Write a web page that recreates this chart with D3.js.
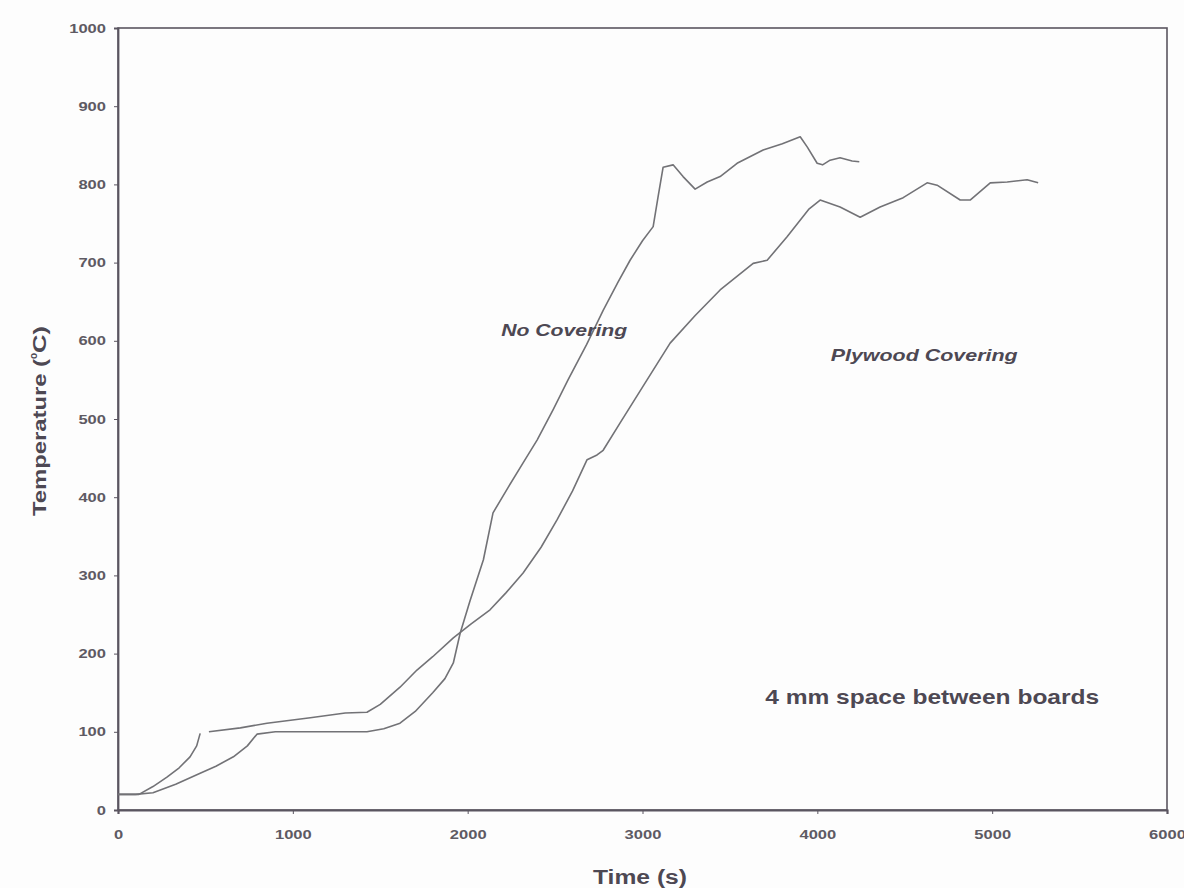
<!DOCTYPE html>
<html>
<head>
<meta charset="utf-8">
<script src="https://cdn.jsdelivr.net/npm/d3@7"></script>
<style>
  html, body { margin: 0; padding: 0; background: #fdfdfd; }
  svg { display: block; }
  text { font-family: "Liberation Sans", Arial, sans-serif; }
</style>
</head>
<body>
<svg id="chart" width="1184" height="888"></svg>
<script>
// Temperature histories (time in s, temperature in °C)
const noCoveringTime = [0, 100, 200, 330, 470, 560, 660, 740, 795, 900, 1000, 1200, 1424, 1520, 1613, 1700, 1800, 1870, 1918, 1957, 2014, 2090, 2145, 2230, 2317, 2397, 2489, 2574, 2680, 2775, 2860, 2929, 3000, 3061, 3089, 3118, 3175, 3232, 3301, 3370, 3444, 3541, 3690, 3800, 3902, 3942, 3999, 4030, 4073, 4130, 4199, 4240];
const noCoveringTemp = [20, 20, 22, 33, 47, 56, 68, 82, 97, 100, 100, 100, 100, 104, 111, 126, 150, 168, 188, 226, 268, 320, 380, 412, 444, 473, 512, 550, 595, 639, 675, 703, 728, 746, 784, 822, 825, 810, 794, 803, 810, 827, 844, 852, 861, 848, 827, 825, 831, 834, 830, 829];

const plywoodTime = [0, 120, 200, 280, 350, 412, 450, 470, 490, 520, 700, 852, 1100, 1300, 1424, 1500, 1613, 1710, 1800, 1918, 2020, 2128, 2220, 2317, 2420, 2511, 2600, 2683, 2740, 2775, 2872, 3026, 3158, 3300, 3444, 3633, 3713, 3827, 3950, 4016, 4130, 4245, 4359, 4491, 4628, 4685, 4817, 4874, 4989, 5086, 5200, 5263];
const plywoodTemp = [20, 20, 30, 42, 54, 68, 82, 98, null, 100, 105, 111, 118, 124, 125, 135, 157, 179, 196, 220, 238, 256, 278, 303, 336, 371, 408, 448, 454, 460, 495, 550, 597, 632, 665, 699, 703, 733, 768, 780, 771, 758, 771, 783, 802, 799, 780, 780, 802, 803, 806, 802];

const xTicks = [0, 1000, 2000, 3000, 4000, 5000, 6000];
const yTicks = [0, 100, 200, 300, 400, 500, 600, 700, 800, 900, 1000];

const seriesNames = ["No Covering", "Plywood Covering"];
const noteText = "4 mm space between boards";

// Text placement (data coordinates) and rendered widths
const seriesLabelLayout = [
  { t: 2552, T: 606, width: 126, size: 16.5 },
  { t: 4611, T: 574, width: 187, size: 16.5 }
];

const svg = d3.select("#chart");
const margin = { left: 118, right: 17, top: 28, bottom: 78 };
const W = 1184, H = 888;

const x = d3.scaleLinear().domain([0, 6000]).range([margin.left, W - margin.right]);
const y = d3.scaleLinear().domain([0, 1000]).range([H - margin.bottom, margin.top]);

const axisColor = "#5a5560";
const textColor = "#4d4853";
const tickColor = "#5e5a63";
const lineColor = "#727276";

// Plot frame
svg.append("rect")
  .attr("x", x(0)).attr("y", y(1000))
  .attr("width", x(6000) - x(0)).attr("height", y(0) - y(1000))
  .attr("fill", "none").attr("stroke", axisColor).attr("stroke-width", 1.6);

// Bottom axis
const xAxis = svg.append("g")
  .attr("transform", `translate(0,${y(0)})`)
  .call(d3.axisBottom(x).tickValues(xTicks).tickSize(4).tickPadding(16).tickFormat(d3.format("d")));
xAxis.select(".domain").attr("stroke", axisColor).attr("stroke-width", 2.2);
xAxis.selectAll(".tick line").attr("stroke", axisColor);
xAxis.selectAll(".tick text")
  .attr("fill", tickColor).attr("font-size", 13).attr("font-weight", "bold")
  .attr("textLength", d => String(d).length * 9.2)
  .attr("lengthAdjust", "spacingAndGlyphs");

// Left axis
const yAxis = svg.append("g")
  .attr("transform", `translate(${x(0)},0)`)
  .call(d3.axisLeft(y).tickValues(yTicks).tickSize(4).tickPadding(8).tickFormat(d3.format("d")));
yAxis.select(".domain").attr("stroke", axisColor).attr("stroke-width", 1.8);
yAxis.selectAll(".tick line").attr("stroke", axisColor);
yAxis.selectAll(".tick text")
  .attr("fill", tickColor).attr("font-size", 13).attr("font-weight", "bold")
  .attr("textLength", d => String(d).length * 9.2)
  .attr("lengthAdjust", "spacingAndGlyphs");

// Temperature curves
const line = d3.line()
  .defined(d => d[1] !== null)
  .x(d => x(d[0]))
  .y(d => y(d[1]));

function drawSeries(times, temps) {
  const pts = times.map((t, i) => [t, temps[i]]);
  svg.append("path")
    .datum(pts)
    .attr("d", line)
    .attr("fill", "none")
    .attr("stroke", lineColor)
    .attr("stroke-width", 1.6)
    .attr("stroke-linejoin", "round");
}
drawSeries(noCoveringTime, noCoveringTemp);
drawSeries(plywoodTime, plywoodTemp);

// Curve labels
svg.selectAll(".series-label")
  .data(seriesNames)
  .enter().append("text")
  .attr("class", "series-label")
  .attr("x", (d, i) => x(seriesLabelLayout[i].t) - seriesLabelLayout[i].width / 2)
  .attr("y", (d, i) => y(seriesLabelLayout[i].T))
  .attr("font-size", (d, i) => seriesLabelLayout[i].size)
  .attr("textLength", (d, i) => seriesLabelLayout[i].width)
  .attr("lengthAdjust", "spacingAndGlyphs")
  .attr("font-weight", "bold")
  .attr("font-style", "italic")
  .attr("fill", textColor)
  .text(d => d);

// Annotation
svg.append("text")
  .attr("x", x(4657) - 167).attr("y", y(136))
  .attr("font-size", 21)
  .attr("textLength", 334)
  .attr("lengthAdjust", "spacingAndGlyphs")
  .attr("font-weight", "bold")
  .attr("fill", textColor)
  .text(noteText);

// Axis titles
svg.append("text")
  .attr("x", 593).attr("y", 884)
  .attr("font-size", 20)
  .attr("textLength", 94)
  .attr("lengthAdjust", "spacingAndGlyphs")
  .attr("font-weight", "bold")
  .attr("fill", textColor)
  .text("Time (s)");

const yTitle = svg.append("text")
  .attr("transform", `translate(46,516) rotate(-90)`)
  .attr("font-size", 18)
  .attr("font-weight", "bold")
  .attr("fill", textColor);
yTitle.append("tspan").attr("textLength", 157).attr("lengthAdjust", "spacingAndGlyphs").text("Temperature (");
yTitle.append("tspan").attr("font-size", 10).attr("dy", -9).text("o");
yTitle.append("tspan").attr("dy", 9).attr("textLength", 27).attr("lengthAdjust", "spacingAndGlyphs").text("C)");
</script>
</body>
</html>
